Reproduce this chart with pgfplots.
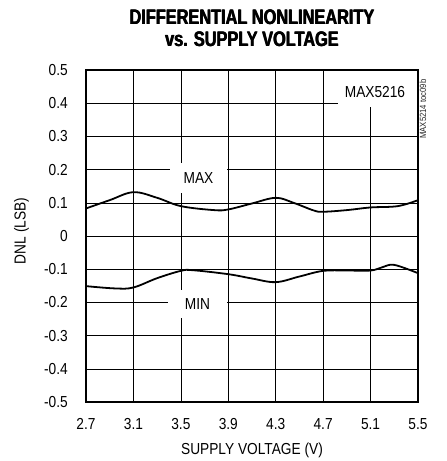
\documentclass[border=0pt]{standalone}
\usepackage{fontspec}
\setmainfont{Liberation Sans}
\usepackage{graphicx}
\usepackage{pgfplots}
\pgfplotsset{compat=1.18}
% narrow the text like the condensed face of the original
\newcommand{\cond}[1]{\scalebox{0.86}[1]{#1}}

\begin{document}
\begin{tikzpicture}
\useasboundingbox (-86bp,-59bp) rectangle (361bp,402bp);
\begin{axis}[
  at={(0,0)}, anchor=south west,
  scale only axis,
  width=332bp, height=332bp,
  xmin=2.7, xmax=5.5,
  ymin=-0.5, ymax=0.5,
  xtick={2.7,3.1,...,5.5},
  ytick={-0.5,-0.4,...,0.5},
  xticklabels={\cond{2.7},\cond{3.1},\cond{3.5},\cond{3.9},\cond{4.3},\cond{4.7},\cond{5.1},\cond{5.5}},
  yticklabels={\cond{-0.5},\cond{-0.4},\cond{-0.3},\cond{-0.2},\cond{-0.1},\cond{0},\cond{0.1},\cond{0.2},\cond{0.3},\cond{0.4},\cond{0.5}},
  major tick length=0pt,
  xmajorgrids, ymajorgrids,
  major grid style={draw=black, line width=0.6pt},
  axis line style={draw=black, line width=2.2pt},
  ticklabel style={font=\fontsize{16}{16}\selectfont, inner sep=0pt},
  xticklabel style={anchor=base, yshift=-27bp},
  yticklabel style={anchor=east, xshift=-18bp},
  clip=false,
]
% MAX
\addplot[black, line width=1.8pt, smooth, tension=0.6] coordinates {
  (2.7,0.083) (2.9,0.108) (3.1,0.132) (3.3,0.115) (3.5,0.090) (3.78,0.078)
  (3.9,0.080) (4.1,0.098) (4.3,0.115) (4.45,0.100) (4.62,0.077) (4.7,0.073)
  (4.9,0.078) (5.1,0.086) (5.33,0.090) (5.5,0.108)
};
% MIN
\addplot[black, line width=1.8pt, smooth, tension=0.6] coordinates {
  (2.7,-0.151) (2.95,-0.158) (3.1,-0.155) (3.3,-0.127) (3.5,-0.105)
  (3.6,-0.103) (3.9,-0.115) (4.1,-0.128) (4.3,-0.139) (4.5,-0.122)
  (4.7,-0.105) (4.9,-0.104) (5.1,-0.104) (5.2,-0.094) (5.3,-0.087) (5.5,-0.112)
};
\end{axis}
% heavy plot frame
\draw[black, line width=2.2pt] (0,0) rectangle (332bp,332bp);
% labels with white boxes that break the grid
\tikzset{lbl/.style={fill=white, inner sep=0pt, font=\fontsize{16}{16}\selectfont}}
\node[lbl, minimum width=57bp, minimum height=30bp] at (112.5bp,224bp) {\cond{MAX}};
\node[lbl, minimum width=59bp, minimum height=28bp] at (111.5bp,98bp) {\cond{MIN}};
\node[lbl, minimum width=79bp, minimum height=36bp, anchor=north east] at (330.9bp,330.9bp) {};
\node[font=\fontsize{16}{16}\selectfont] at (289bp,310bp) {\cond{MAX5216}};
\node[rotate=90, font=\fontsize{9}{9}\selectfont, text=black!85] at (337bp,293bp) {\cond{MAX5214 toc09b}};
% axis titles
\node[font=\fontsize{16}{16}\selectfont, anchor=base] at (166bp,-52bp) {\cond{SUPPLY VOLTAGE (V)}};
\node[font=\fontsize{16}{16}\selectfont, rotate=90] at (-64.5bp,171bp) {\cond{DNL (LSB)}};
\foreach \dx in {-0.35,0,0.35} {
  \node[font=\bfseries\fontsize{21}{21}\selectfont, anchor=base] at (166bp+\dx bp,377bp) {\scalebox{0.78}[1]{DIFFERENTIAL NONLINEARITY}};
  \node[font=\bfseries\fontsize{21}{21}\selectfont, anchor=base] at (166bp+\dx bp,355bp) {\scalebox{0.78}[1]{vs. SUPPLY VOLTAGE}};
}
\end{tikzpicture}
\end{document}
